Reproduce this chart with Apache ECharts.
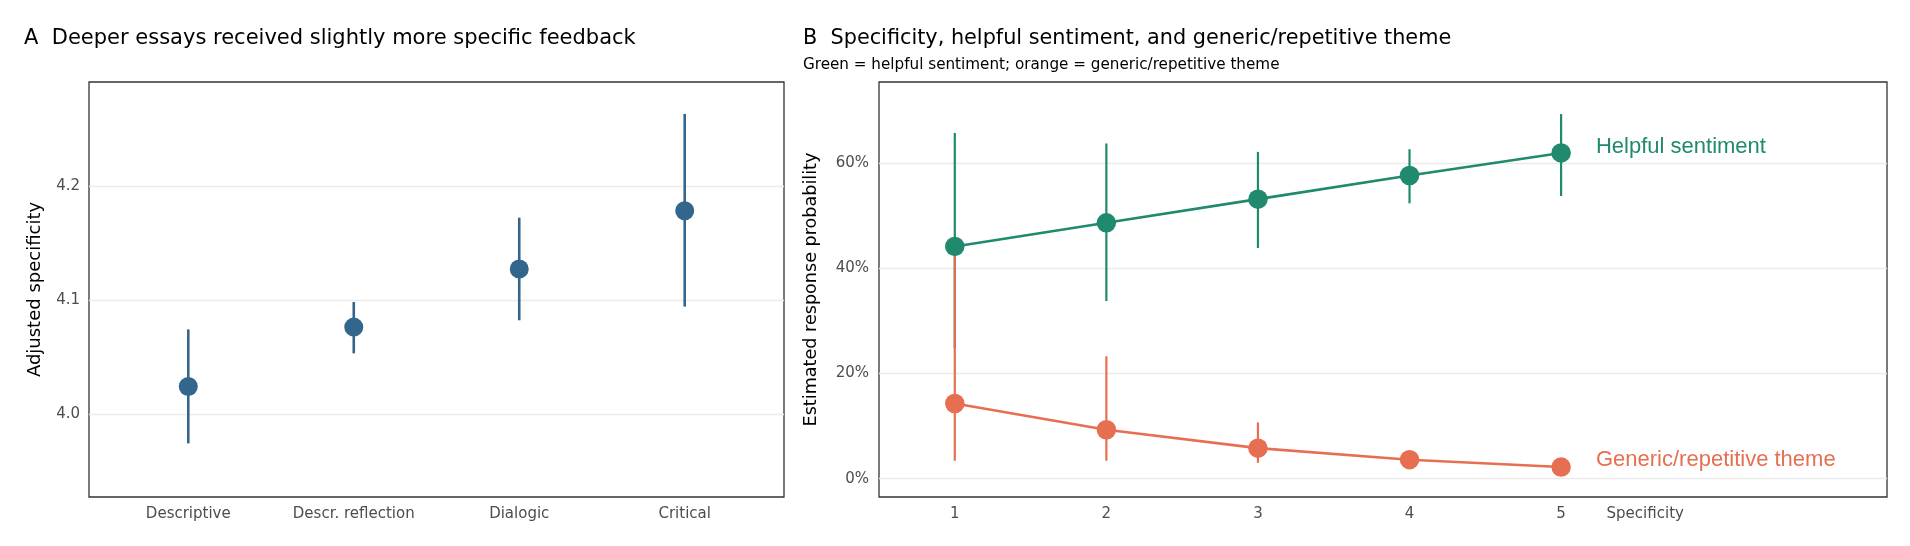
<!DOCTYPE html>
<html>
<head>
<meta charset="utf-8">
<script src="https://cdn.jsdelivr.net/npm/echarts@6/dist/echarts.min.js"></script>
<style>
html, body { margin: 0; padding: 0; background: #fff; }
#main { width: 1910px; height: 546px; }
</style>
</head>
<body>
<div id="main"></div>
<script>
// panel A: essay depth vs adjusted specificity
var depthLevels = ['Descriptive', 'Descr. reflection', 'Dialogic', 'Critical'];
var depthPos = [1, 2, 3, 4];
var specMean = [4.024, 4.076, 4.127, 4.178];
var specLow = [3.974, 4.053, 4.082, 4.094];
var specHigh = [4.074, 4.098, 4.172, 4.263];
var specTicks = [4.0, 4.1, 4.2];

// panel B: specificity vs response probability (%)
var specificity = [1, 2, 3, 4, 5];
var helpMean = [44.2, 48.7, 53.2, 57.7, 62.0];
var helpLow = [24.8, 33.8, 43.9, 52.4, 53.8];
var helpHigh = [65.8, 63.8, 62.2, 62.7, 69.4];
var genMean = [14.3, 9.3, 5.8, 3.6, 2.2];
var genLow = [3.4, 3.4, 3.0, 2.6, 1.6];
var genHigh = [42.5, 23.3, 10.7, 4.8, 2.9];
var probTicks = [0, 20, 40, 60];

var seriesNames = ['Helpful sentiment', 'Generic/repetitive theme'];
var labelX = 5.23;
var labelY = [63.1, 3.5];
var xAxisNameB = 'Specificity';
var xAxisNamePos = 5.555;

var BLUE = '#33668c';
var GREEN = '#1f8a6d';
var ORANGE = '#e76f51';
var TICK_FONT = '"DejaVu Sans", sans-serif';
var TEXT_FONT = '"Liberation Sans", Arial, sans-serif';

var chart = echarts.init(document.getElementById('main'));

function zip3(x, a, b) {
	var out = [];
	for (var i = 0; i < x.length; i++) {
		out.push([x[i], a[i], b[i]]);
	}
	return out;
}
function zip2(x, a) {
	var out = [];
	for (var i = 0; i < x.length; i++) {
		out.push([x[i], a[i]]);
	}
	return out;
}

function errorBar(width) {
	return function(params, api) {
		var x = api.value(0);
		var lo = api.coord([x, api.value(1)]);
		var hi = api.coord([x, api.value(2)]);
		return {
			type : 'line',
			shape : { x1 : lo[0], y1 : lo[1], x2 : hi[0], y2 : hi[1] },
			style : { stroke : api.visual('color'), lineWidth : width }
		};
	};
}

var tickLabel = {
	color : '#4d4d4d',
	fontSize : 15,
	fontFamily : TICK_FONT
};

var option = {
	animation : false,
	backgroundColor : '#fff',
	title : [ {
		text : 'A  Deeper essays received slightly more specific feedback',
		left : 24,
		top : 28,
		padding : 0,
		textStyle : { fontSize : 21, fontWeight : 'normal', color : '#000', fontFamily : TICK_FONT }
	}, {
		text : 'B  Specificity, helpful sentiment, and generic/repetitive theme',
		left : 803,
		top : 28,
		padding : 0,
		textStyle : { fontSize : 20.8, fontWeight : 'normal', color : '#000', fontFamily : TICK_FONT }
	}, {
		text : 'Green = helpful sentiment; orange = generic/repetitive theme',
		left : 803,
		top : 58,
		padding : 0,
		textStyle : { fontSize : 15.2, fontWeight : 'normal', color : '#000', fontFamily : TICK_FONT }
	} ],
	grid : [ {
		left : 89,
		top : 82,
		width : 695,
		height : 415,
		show : true,
		borderColor : '#333',
		borderWidth : 1.3
	}, {
		left : 879,
		top : 82,
		width : 1008,
		height : 415,
		show : true,
		borderColor : '#333',
		borderWidth : 1.3
	} ],
	xAxis : [ {
		type : 'value',
		gridIndex : 0,
		min : 0.4,
		max : 4.6,
		axisLine : { show : false },
		axisTick : { show : false, customValues : depthPos },
		splitLine : { show : false },
		axisLabel : {
			customValues : depthPos,
			margin : 10,
			color : tickLabel.color,
			fontSize : tickLabel.fontSize,
			fontFamily : tickLabel.fontFamily,
			formatter : function(v) {
				return depthLevels[Math.round(v) - 1];
			}
		}
	}, {
		type : 'value',
		gridIndex : 1,
		min : 0.5,
		max : 7.15,
		axisLine : { show : false },
		axisTick : { show : false, customValues : specificity },
		splitLine : { show : false },
		axisLabel : {
			customValues : specificity.concat([xAxisNamePos]),
			margin : 10,
			color : tickLabel.color,
			fontSize : tickLabel.fontSize,
			fontFamily : tickLabel.fontFamily,
			formatter : function(v) {
				return v === xAxisNamePos ? xAxisNameB : String(v);
			}
		}
	} ],
	yAxis : [ {
		type : 'value',
		gridIndex : 0,
		min : 3.927,
		max : 4.291,
		name : 'Adjusted specificity',
		nameLocation : 'middle',
		nameGap : 45,
		nameTextStyle : { fontSize : 18, color : '#000', fontFamily : TICK_FONT },
		axisLine : { show : false },
		axisTick : { show : false, customValues : specTicks },
		splitLine : { show : true, lineStyle : { color : '#ebebeb', width : 1.3 } },
		axisLabel : {
			customValues : specTicks,
			margin : 9,
			color : tickLabel.color,
			fontSize : tickLabel.fontSize,
			fontFamily : tickLabel.fontFamily,
			formatter : function(v) {
				return v.toFixed(1);
			}
		}
	}, {
		type : 'value',
		gridIndex : 1,
		min : -3.5,
		max : 75.5,
		name : 'Estimated response probability',
		nameLocation : 'middle',
		nameGap : 59,
		nameTextStyle : { fontSize : 17.6, color : '#000', fontFamily : TICK_FONT },
		axisLine : { show : false },
		axisTick : { show : false, customValues : probTicks },
		splitLine : { show : true, lineStyle : { color : '#ebebeb', width : 1.3 } },
		axisLabel : {
			customValues : probTicks,
			margin : 10,
			color : tickLabel.color,
			fontSize : tickLabel.fontSize,
			fontFamily : tickLabel.fontFamily,
			formatter : function(v) {
				return v + '%';
			}
		}
	} ],
	series : [ {
		// panel A error bars
		type : 'custom',
		xAxisIndex : 0,
		yAxisIndex : 0,
		color : BLUE,
		renderItem : errorBar(2.6),
		encode : { x : 0, y : [ 1, 2 ] },
		data : zip3(depthPos, specLow, specHigh),
		z : 2
	}, {
		type : 'scatter',
		xAxisIndex : 0,
		yAxisIndex : 0,
		symbolSize : 19,
		itemStyle : { color : BLUE, opacity : 1 },
		data : zip2(depthPos, specMean),
		z : 3
	}, {
		// panel B error bars
		type : 'custom',
		xAxisIndex : 1,
		yAxisIndex : 1,
		color : GREEN,
		renderItem : errorBar(2.2),
		encode : { x : 0, y : [ 1, 2 ] },
		data : zip3(specificity, helpLow, helpHigh),
		z : 2
	}, {
		type : 'custom',
		xAxisIndex : 1,
		yAxisIndex : 1,
		color : ORANGE,
		renderItem : errorBar(2.2),
		encode : { x : 0, y : [ 1, 2 ] },
		data : zip3(specificity, genLow, genHigh),
		z : 3
	}, {
		name : seriesNames[1],
		type : 'line',
		xAxisIndex : 1,
		yAxisIndex : 1,
		symbol : 'circle',
		symbolSize : 19.5,
		lineStyle : { color : ORANGE, width : 2.6 },
		itemStyle : { color : ORANGE },
		data : zip2(specificity, genMean),
		z : 4
	}, {
		name : seriesNames[0],
		type : 'line',
		xAxisIndex : 1,
		yAxisIndex : 1,
		symbol : 'circle',
		symbolSize : 19.5,
		lineStyle : { color : GREEN, width : 2.6 },
		itemStyle : { color : GREEN },
		data : zip2(specificity, helpMean),
		z : 5
	}, {
		// end-of-line labels
		type : 'scatter',
		xAxisIndex : 1,
		yAxisIndex : 1,
		symbolSize : 0,
		silent : true,
		itemStyle : { opacity : 1 },
		data : [ {
			value : [ labelX, labelY[0] ],
			name : seriesNames[0],
			label : { color : GREEN }
		}, {
			value : [ labelX, labelY[1] ],
			name : seriesNames[1],
			label : { color : ORANGE }
		} ],
		label : {
			show : true,
			position : 'right',
			distance : 0,
			formatter : '{b}',
			fontSize : 22,
			fontFamily : TEXT_FONT
		},
		z : 6
	} ]
};
chart.setOption(option);
</script>
</body>
</html>
